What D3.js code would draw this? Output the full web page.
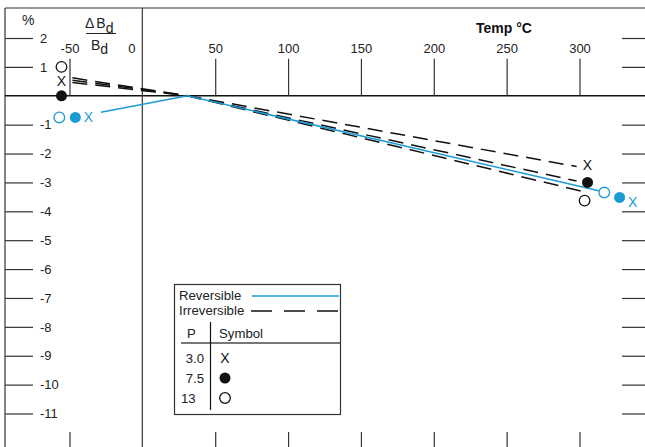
<!DOCTYPE html>
<html>
<head>
<meta charset="utf-8">
<script src="https://cdn.jsdelivr.net/npm/d3@7"></script>
<style>
  html, body { margin: 0; padding: 0; background: #fff; }
  svg { display: block; font-family: "Liberation Sans", Arial, sans-serif; }
</style>
</head>
<body>
<svg id="chart" width="645" height="447"></svg>
<script>
// ---- data ----
const tempTicks = [-50, 0, 50, 100, 150, 200, 250, 300];
const valueTicks = [2, 1, 0, -1, -2, -3, -4, -5, -6, -7, -8, -9, -10, -11];
const pressures = ["3.0", "7.5", "13"];
const symbols = ["x", "filled", "open"];

// irreversible (dashed) curves: [temp, value]
const irrev30 = [[-48, 0.46], [31, 0], [298, -2.45]];
const irrev75 = [[-48, 0.54], [31, 0], [298, -2.95]];
const irrev13 = [[-48, 0.62], [31, 0], [301, -3.3]];
// reversible (blue) curve
const reversible = [[-28.5, -0.57], [31, 0], [314, -3.3]];

// marker points [temp, value]
const irrevMarkers30 = [[-55.5, 0.5], [305.5, -2.42]];
const irrevMarkers75 = [[-55.5, 0.0], [305.5, -3.0]];
const irrevMarkers13 = [[-55.5, 1.0], [303.5, -3.63]];
const revMarkers30 = [[-37, -0.75], [336.5, -3.7]];
const revMarkers75 = [[-46, -0.75], [327.5, -3.52]];
const revMarkers13 = [[-57, -0.75], [317, -3.35]];

// ---- drawing ----
const svg = d3.select("#chart");
const BLUE = "#1b9ad6";
const INK = "#222";
const AX = "#333";

const x = d3.scaleLinear().domain([-50, 300]).range([69.5, 579.5]);
const y = d3.scaleLinear().domain([2, -11]).range([38, 413.5]);

// frame
svg.append("line").attr("x1", 5).attr("x2", 645).attr("y1", 8).attr("y2", 8)
  .attr("stroke", AX).attr("stroke-width", 1.2);
svg.append("line").attr("x1", 5).attr("x2", 5).attr("y1", 8).attr("y2", 447)
  .attr("stroke", AX).attr("stroke-width", 1.2);

// zero line and vertical axis
svg.append("line").attr("x1", 5).attr("x2", 645).attr("y1", y(0)).attr("y2", y(0))
  .attr("stroke", "#111").attr("stroke-width", 1.5);
svg.append("line").attr("x1", x(0)).attr("x2", x(0)).attr("y1", 8).attr("y2", 447)
  .attr("stroke", "#444").attr("stroke-width", 1.3);

function styleAxis(g) {
  g.select(".domain").remove();
  g.selectAll(".tick line").attr("stroke", AX).attr("stroke-width", 1.2);
  g.selectAll(".tick text").attr("fill", INK).attr("font-size", 13)
    .attr("font-family", "'Liberation Sans', Arial, sans-serif");
}

// left axis (ticks going right from frame, labels after)
const nonZero = valueTicks.filter(v => v !== 0);
svg.append("g").attr("transform", "translate(5,0)")
  .call(d3.axisRight(y).tickValues(nonZero).tickSize(28).tickPadding(7)
    .tickFormat(d => d3.format("d")(d).replace("\u2212", "-")))
  .call(styleAxis);

// right axis ticks
svg.append("g").attr("transform", "translate(645,0)")
  .call(d3.axisLeft(y).tickValues(nonZero).tickSize(23).tickFormat(""))
  .call(styleAxis);

// top axis (on zero line)
const topG = svg.append("g").attr("transform", `translate(0,${y(0)})`)
  .call(d3.axisTop(x).tickValues(tempTicks).tickSize(37).tickPadding(6)
    .tickFormat(d => String(d)))
  .call(styleAxis);
topG.selectAll(".tick").filter(d => d === 0).select("line").remove();
topG.selectAll(".tick").filter(d => d === 0).select("text").attr("x", -11);

// bottom ticks
svg.append("g").attr("transform", "translate(0,447)")
  .call(d3.axisTop(x).tickValues(tempTicks.filter(t => t !== 0)).tickSize(15).tickFormat(""))
  .call(styleAxis);

// titles
svg.append("text").attr("x", 22).attr("y", 25).attr("font-size", 14).attr("fill", INK).text("%");
const num = svg.append("text").attr("x", 85).attr("y", 28).attr("font-size", 14).attr("fill", INK);
num.append("tspan").text("\u0394");
num.append("tspan").attr("dx", 2).text("B");
num.append("tspan").attr("dy", 5).text("d");
svg.append("line").attr("x1", 86).attr("x2", 116).attr("y1", 33.5).attr("y2", 33.5)
  .attr("stroke", INK).attr("stroke-width", 1);
const den = svg.append("text").attr("x", 91).attr("y", 50).attr("font-size", 14).attr("fill", INK);
den.append("tspan").text("B");
den.append("tspan").attr("dy", 4).text("d");
svg.append("text").attr("x", 476).attr("y", 33).attr("font-size", 14).attr("font-weight", "bold")
  .attr("fill", "#111").text("Temp \u00B0C");

// lines
const line = d3.line().x(d => x(d[0])).y(d => y(d[1]));
[irrev30, irrev75, irrev13].forEach(s => {
  svg.append("path").attr("d", line(s)).attr("fill", "none").attr("stroke", "#111")
    .attr("stroke-width", 1.5).attr("stroke-dasharray", "15,8");
});
svg.append("path").attr("d", line(reversible)).attr("fill", "none").attr("stroke", BLUE)
  .attr("stroke-width", 1.5);

// markers
function drawMarker(g, px, py, kind, color) {
  if (kind === "x") {
    g.append("text").attr("x", px).attr("y", py + 4.8).attr("text-anchor", "middle")
      .attr("font-size", 14).attr("fill", color).text("X");
  } else if (kind === "filled") {
    g.append("circle").attr("cx", px).attr("cy", py).attr("r", 5.5).attr("fill", color);
  } else {
    g.append("circle").attr("cx", px).attr("cy", py).attr("r", 5.3).attr("fill", "#fff")
      .attr("stroke", color).attr("stroke-width", 1.3);
  }
}
const mg = svg.append("g");
[[irrevMarkers30, "x"], [irrevMarkers75, "filled"], [irrevMarkers13, "open"]].forEach(([pts, k]) =>
  pts.forEach(p => drawMarker(mg, x(p[0]), y(p[1]), k, "#111")));
[[revMarkers30, "x"], [revMarkers75, "filled"], [revMarkers13, "open"]].forEach(([pts, k]) =>
  pts.forEach(p => drawMarker(mg, x(p[0]), y(p[1]), k, BLUE)));

// legend
const LF = 13.2;
const lg = svg.append("g");
lg.append("rect").attr("x", 174.5).attr("y", 284.5).attr("width", 166).attr("height", 130)
  .attr("fill", "#fff").attr("stroke", AX).attr("stroke-width", 1.2);
lg.append("text").attr("x", 179).attr("y", 300).attr("font-size", LF).attr("fill", INK).text("Reversible");
lg.append("line").attr("x1", 252).attr("x2", 339).attr("y1", 296).attr("y2", 296)
  .attr("stroke", BLUE).attr("stroke-width", 1.5);
lg.append("text").attr("x", 179).attr("y", 315).attr("font-size", LF).attr("fill", INK).text("Irreversible");
lg.append("line").attr("x1", 251).attr("x2", 340).attr("y1", 311).attr("y2", 311)
  .attr("stroke", "#111").attr("stroke-width", 1.5).attr("stroke-dasharray", "21,12");
lg.append("text").attr("x", 187).attr("y", 338).attr("font-size", LF).attr("fill", INK).text("P");
lg.append("text").attr("x", 219).attr("y", 338).attr("font-size", LF).attr("fill", INK).text("Symbol");
lg.append("line").attr("x1", 181).attr("x2", 340).attr("y1", 343).attr("y2", 343)
  .attr("stroke", "#777").attr("stroke-width", 2);
lg.append("line").attr("x1", 210.5).attr("x2", 210.5).attr("y1", 322).attr("y2", 410)
  .attr("stroke", "#111").attr("stroke-width", 1.2);
const rowY = [358, 378, 398];
pressures.forEach((p, i) => {
  const t = lg.append("text").attr("y", rowY[i] + 4.5).attr("font-size", LF).attr("fill", INK).text(p);
  if (p === "13") t.attr("x", 181); else t.attr("x", 204).attr("text-anchor", "end");
  drawMarker(lg, 225, rowY[i], symbols[i], "#111");
});
</script>
</body>
</html>
